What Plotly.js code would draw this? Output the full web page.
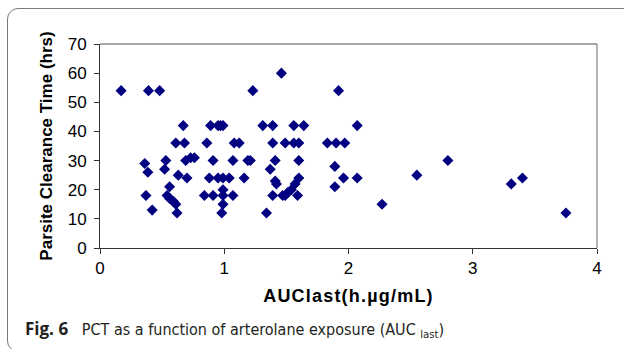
<!DOCTYPE html>
<html>
<head>
<meta charset="utf-8">
<script src="https://cdn.plot.ly/plotly-3.0.1.min.js"></script>
<style>
  html, body { margin: 0; padding: 0; background: #fff; }
  #wrap { position: relative; width: 624px; height: 349px; overflow: hidden; }
  #chart { position: absolute; left: 0; top: 0; width: 624px; height: 349px; }
  #frame { position: absolute; left: 7px; top: 8px; width: 660px; height: 344px;
           border: 1.3px solid #7a7a7a; border-radius: 11px; pointer-events: none; box-sizing: border-box; }
</style>
</head>
<body>
<div id="wrap">
  <div id="chart"></div>
  <div id="frame"></div>
</div>
<script>
// AUClast (h.µg/mL)
const auc = [
  0.17, 0.39, 0.48, 1.23, 1.46, 1.92,
  0.67, 0.89, 0.95, 0.97, 0.99, 1.31, 1.39, 1.56, 1.64, 2.07,
  0.61, 0.68, 0.86, 1.08, 1.12, 1.39, 1.49, 1.56, 1.60, 1.83, 1.90, 1.97,
  0.36, 0.53, 0.69, 0.73, 0.76, 0.91, 1.07, 1.19, 1.21, 1.41, 1.60, 2.80,
  0.52, 1.37, 1.89, 0.385, 0.63, 2.55,
  0.70, 0.88, 0.95, 0.99, 1.04, 1.16, 1.60, 1.96, 2.07, 3.40,
  1.41, 1.42, 1.57, 3.31, 0.56, 1.89, 0.99, 1.54, 1.51,
  0.37, 0.54, 0.84, 0.91, 0.99, 1.07, 1.39, 1.47, 1.49, 1.59,
  0.56, 0.59, 0.61, 0.99, 2.27, 0.42,
  0.62, 0.98, 1.34, 3.75
];
// Parasite clearance time (hrs)
const pct = [
  54, 54, 54, 54, 60, 54,
  42, 42, 42, 42, 42, 42, 42, 42, 42, 42,
  36, 36, 36, 36, 36, 36, 36, 36, 36, 36, 36, 36,
  29, 30, 30, 31, 31, 30, 30, 30, 30, 30, 30, 30,
  27, 27, 28, 26, 25, 25,
  24, 24, 24, 24, 24, 24, 24, 24, 24, 24,
  23, 22, 22, 22, 21, 21, 20, 20, 19,
  18, 18, 18, 18, 18, 18, 18, 18, 18, 18,
  17, 16, 15, 15, 15, 13,
  12, 12, 12, 12
];
const xTicks = [0, 1, 2, 3, 4];
const yTicks = [0, 10, 20, 30, 40, 50, 60, 70];

const chartFont = 'Liberation Sans, Arial, sans-serif';
const capFont = 'DejaVu Sans Condensed, Liberation Sans Narrow, Open Sans, sans-serif';

const trace = {
  type: 'scatter', mode: 'markers', x: auc, y: pct,
  marker: { symbol: 'diamond', size: 8.5, color: '#000080', line: { width: 0 } },
  hoverinfo: 'x+y'
};

const layout = {
  width: 624, height: 349,
  margin: { l: 100, r: 27, t: 44, b: 101 },
  paper_bgcolor: 'rgba(0,0,0,0)', plot_bgcolor: '#fff',
  showlegend: false,
  font: { family: chartFont, color: '#000' },
  xaxis: {
    range: [0, 4], tickvals: xTicks, ticktext: xTicks.map(String),
    showgrid: false, zeroline: false,
    showline: true, linecolor: '#333', linewidth: 1,
    ticks: 'outside', ticklen: 5, tickcolor: '#333',
    tickfont: { size: 17, family: chartFont, color: '#000' },
    title: { text: '<b><span style="letter-spacing:1.2px">AUClast(h.µg/mL)</span></b>', font: { size: 18, family: chartFont, color: '#000' }, standoff: 11 }
  },
  yaxis: {
    range: [0, 70], tickvals: yTicks, ticktext: yTicks.map(String),
    showgrid: false, zeroline: false,
    showline: true, linecolor: '#333', linewidth: 1,
    ticks: 'outside', ticklen: 5, tickcolor: '#333', ticklabelstandoff: 4,
    tickfont: { size: 17, family: chartFont, color: '#000' },
    title: { text: '<b>Parsite Clearance Time (hrs)</b>', font: { size: 17, family: chartFont, color: '#000' }, standoff: 10 }
  },
  shapes: [
    { type: 'line', xref: 'paper', yref: 'paper', x0: 0, x1: 1, y0: 1, y1: 1, line: { color: '#8a8a8a', width: 1.3 } },
    { type: 'line', xref: 'paper', yref: 'paper', x0: 1, x1: 1, y0: 0, y1: 1, line: { color: '#8a8a8a', width: 1.3 } }
  ],
  annotations: [
    { xref: 'paper', yref: 'paper', x: -0.155, y: -0.395, xanchor: 'left', yanchor: 'middle', showarrow: false,
      text: '<span style="font-family:Open Sans, sans-serif;font-weight:bold;font-size:17px">Fig. 6</span>   PCT as a function of arterolane exposure (AUC <sub>last</sub>)',
      font: { family: capFont, size: 16, color: '#231f20' } }
  ]
};

Plotly.newPlot('chart', [trace], layout, { displayModeBar: false, staticPlot: true });
</script>
</body>
</html>
